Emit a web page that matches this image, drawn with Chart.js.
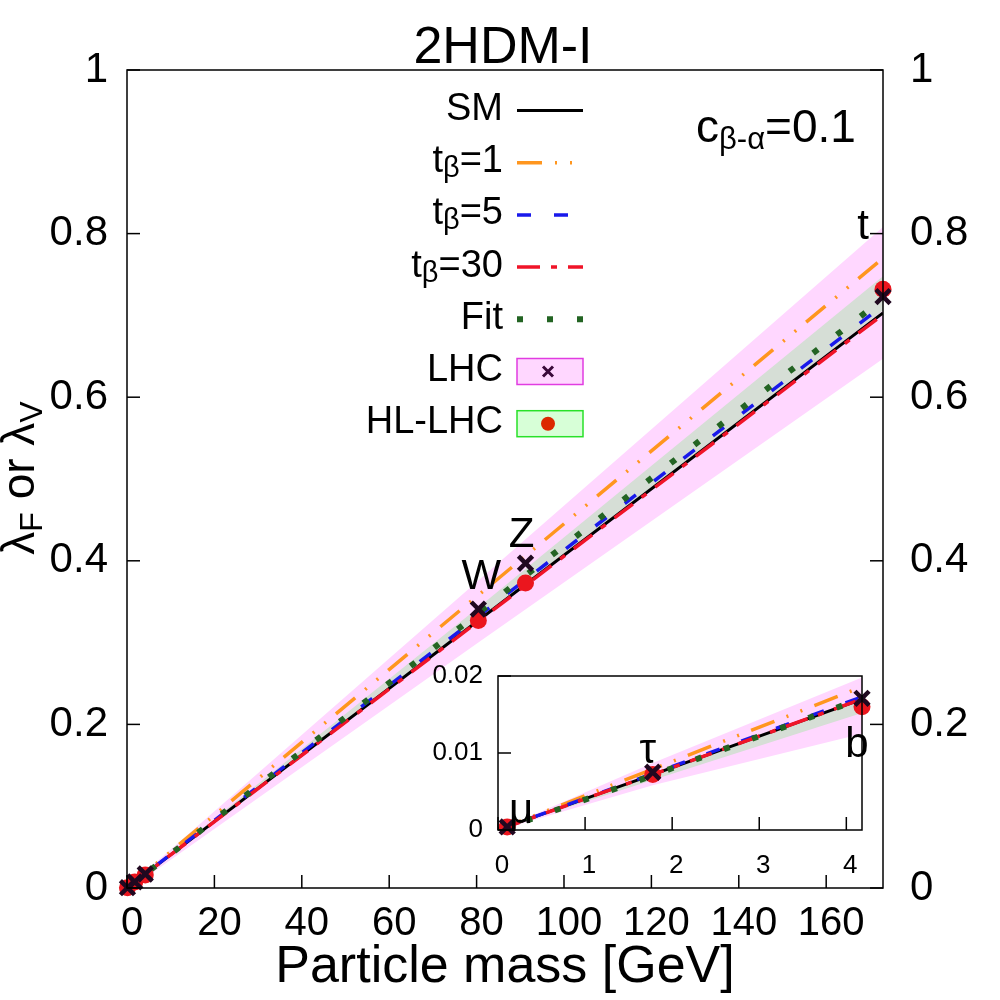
<!DOCTYPE html>
<html>
<head>
<meta charset="utf-8">
<script src="https://cdn.jsdelivr.net/npm/chart.js@4.4.1/dist/chart.umd.min.js"></script>
<style>
body { margin: 0; background: #fff; }
#wrap { position: relative; width: 1000px; height: 1000px; }
#main { position: absolute; left: 0; top: 0; }
#inset { position: absolute; left: 400px; top: 640px; }
</style>
</head>
<body>
<div id="wrap">
<canvas id="main" width="1000" height="1000"></canvas>
<canvas id="inset" width="480" height="260"></canvas>
</div>
<script>
// masses where the model lines are given [GeV]
const masses = [0, 0.1057, 1.777, 4.18, 80.4, 91.19, 173];
const smLine   = [0, 0.00043, 0.0072, 0.0170, 0.327, 0.371, 0.703];
const tb1Line  = [0, 0.00047, 0.0079, 0.0186, 0.358, 0.406, 0.770];
const tb5Line  = [0, 0.00044, 0.0073, 0.0173, 0.332, 0.377, 0.712];
const tb30Line = [0, 0.00043, 0.0072, 0.0170, 0.326, 0.370, 0.701];
const fitLine  = [0, 0.00032, 0.0071, 0.0171, 0.336, 0.382, 0.720];

// fit bands (LHC, HL-LHC)
const bandMass = [0, 0.1057, 1.777, 4.18, 80.4, 173];
const lhcUpper = [0, 0.0005, 0.0087, 0.0198, 0.376, 0.808];
const lhcLower = [0, 0.0003, 0.0058, 0.0125, 0.300, 0.647];
const hlUpper  = [0, 0.00043, 0.0073, 0.0168, 0.343, 0.748];
const hlLower  = [0, 0.00038, 0.0065, 0.0152, 0.326, 0.706];

// measured particles
const pointNames = ['μ', 'τ', 'b', 'W', 'Z', 't'];
const pointMass  = [0.1057, 1.777, 4.18, 80.4, 91.19, 173];
const lhcPoints  = [0.0004, 0.0075, 0.0171, 0.341, 0.397, 0.723];
const hlPoints   = [0.0004, 0.0072, 0.0160, 0.327, 0.373, 0.732];

const FONT = '"Liberation Sans", Arial, Helvetica, sans-serif';
Chart.defaults.font.family = FONT;
Chart.defaults.color = '#000';

const COL = {
    SM: '#000000',
    TB1: 'rgb(255,150,30)',
    TB5: 'rgb(25,25,235)',
    TB30: 'rgb(240,20,40)',
    FIT: 'rgb(35,100,35)',
    LHC: 'rgb(255,215,255)',
    HL: 'rgb(214,222,214)',
    CROSS: '#200820',
    DOT: 'rgb(235,22,30)'
};
const DASH = {
    SM: [],
    TB1: [25, 13, 2, 13, 2, 13],
    TB5: [14, 23],
    TB30: [23, 11, 6, 11],
    FIT: [6, 24]
};
// label offsets from the LHC marker [dx, dy of baseline]
const labelOffsets = [[14, -4], [-5, -9], [-5, 59], [3, -20], [-4, -16], [-20, -58]];

const xy = (xs, ys) => xs.map((x, i) => ({ x: x, y: ys[i] }));
const plain = v => String(+v.toFixed(3));

function lineSet(ys, color, dash, width, order) {
    return {
        data: xy(masses, ys), borderColor: color, borderDash: dash, borderWidth: width,
        borderCapStyle: 'butt', pointRadius: 0, fill: false, tension: 0, order: order
    };
}

function makeDatasets() {
    return [
        { data: xy(bandMass, lhcUpper), borderWidth: 0, pointRadius: 0, backgroundColor: COL.LHC, fill: '+1', order: 20 },
        { data: xy(bandMass, lhcLower), borderWidth: 0, pointRadius: 0, fill: false, order: 21 },
        { data: xy(bandMass, hlUpper), borderWidth: 0, pointRadius: 0, backgroundColor: COL.HL, fill: '+1', order: 18 },
        { data: xy(bandMass, hlLower), borderWidth: 0, pointRadius: 0, fill: false, order: 19 },
        lineSet(smLine, COL.SM, DASH.SM, 3, 9),
        lineSet(tb1Line, COL.TB1, DASH.TB1, 3.5, 8),
        lineSet(tb5Line, COL.TB5, DASH.TB5, 3.5, 7),
        lineSet(tb30Line, COL.TB30, DASH.TB30, 3.5, 6),
        lineSet(fitLine, COL.FIT, DASH.FIT, 6, 5),
        { data: xy(pointMass, hlPoints), showLine: false, pointRadius: 8.5, pointBackgroundColor: COL.DOT,
          pointBorderWidth: 0, clip: 12, order: 2 },
        { data: xy(pointMass, lhcPoints), showLine: false, pointStyle: 'crossRot', pointRadius: 10,
          pointBorderColor: COL.CROSS, pointBorderWidth: 4.5, clip: 12, order: 1 }
    ];
}

// text with subscripts
function richText(ctx, parts, x, y, align, size, subSize, drop) {
    let w = 0;
    parts.forEach(p => {
        ctx.font = (p.sub ? subSize : size) + 'px ' + FONT;
        w += ctx.measureText(p.t).width;
    });
    let cx = align === 'right' ? x - w : align === 'center' ? x - w / 2 : x;
    ctx.textAlign = 'left';
    ctx.textBaseline = 'alphabetic';
    parts.forEach(p => {
        ctx.font = (p.sub ? subSize : size) + 'px ' + FONT;
        ctx.fillText(p.t, cx, y + (p.sub ? drop : 0));
        cx += ctx.measureText(p.t).width;
    });
}

// box and inward ticks like gnuplot
const frame = {
    id: 'frame',
    beforeDatasetsDraw(chart, args, opts) {
        if (!opts.fill) return;
        const a = chart.chartArea;
        chart.ctx.save();
        chart.ctx.fillStyle = opts.fill;
        chart.ctx.fillRect(a.left, a.top, a.right - a.left, a.bottom - a.top);
        chart.ctx.restore();
    },
    afterDraw(chart, args, opts) {
        const ctx = chart.ctx, a = chart.chartArea;
        ctx.save();
        ctx.strokeStyle = '#000';
        ctx.lineWidth = 1.5;
        ctx.setLineDash([]);
        ctx.strokeRect(a.left, a.top, a.right - a.left, a.bottom - a.top);
        opts.axes.forEach(id => {
            const s = chart.scales[id];
            s.ticks.forEach(t => {
                const p = s.getPixelForValue(t.value);
                ctx.beginPath();
                if (s.position === 'bottom') { ctx.moveTo(p, a.bottom); ctx.lineTo(p, a.bottom - opts.len); }
                else if (s.position === 'left') { ctx.moveTo(a.left, p); ctx.lineTo(a.left + opts.len, p); }
                else { ctx.moveTo(a.right, p); ctx.lineTo(a.right - opts.len, p); }
                ctx.stroke();
            });
        });
        ctx.restore();
    }
};

const names = {
    id: 'names',
    afterDatasetsDraw(chart, args, opts) {
        const ctx = chart.ctx, x = chart.scales.x, y = chart.scales.y;
        ctx.save();
        ctx.fillStyle = '#000';
        ctx.font = '42px ' + FONT;
        ctx.textAlign = 'center';
        ctx.textBaseline = 'alphabetic';
        opts.show.forEach(i => {
            const o = labelOffsets[i];
            ctx.fillText(pointNames[i], x.getPixelForValue(pointMass[i]) + o[0], y.getPixelForValue(lhcPoints[i]) + o[1]);
        });
        ctx.restore();
    }
};

const legendRows = [
    { parts: [{ t: 'SM' }], color: COL.SM, dash: DASH.SM, w: 3 },
    { parts: [{ t: 't' }, { t: 'β', sub: 1 }, { t: '=1' }], color: COL.TB1, dash: DASH.TB1, w: 3.5 },
    { parts: [{ t: 't' }, { t: 'β', sub: 1 }, { t: '=5' }], color: COL.TB5, dash: DASH.TB5, w: 3.5 },
    { parts: [{ t: 't' }, { t: 'β', sub: 1 }, { t: '=30' }], color: COL.TB30, dash: DASH.TB30, w: 3.5 },
    { parts: [{ t: 'Fit' }], color: COL.FIT, dash: DASH.FIT, w: 6 },
    { parts: [{ t: 'LHC' }], box: COL.LHC, edge: 'rgb(225,60,225)', mark: 'cross' },
    { parts: [{ t: 'HL-LHC' }], box: 'rgb(215,255,215)', edge: 'rgb(40,225,40)', mark: 'dot' }
];

const texts = {
    id: 'texts',
    afterDraw(chart) {
        const ctx = chart.ctx;
        ctx.save();
        ctx.fillStyle = '#000';
        ctx.textAlign = 'center';
        ctx.textBaseline = 'alphabetic';
        ctx.font = '52px ' + FONT;
        ctx.fillText('2HDM-I', 503, 63);
        ctx.fillText('Particle mass [GeV]', 505, 982);

        ctx.save();
        ctx.translate(34, 478);
        ctx.rotate(-Math.PI / 2);
        richText(ctx, [{ t: 'λ' }, { t: 'F', sub: 1 }, { t: ' or λ' }, { t: 'V', sub: 1 }], 0, 0, 'center', 46, 32, 8);
        ctx.restore();

        richText(ctx, [{ t: 'c' }, { t: 'β-α', sub: 1 }, { t: '=0.1' }], 696, 142, 'left', 46, 31, 7);

        legendRows.forEach((r, i) => {
            const base = 120 + i * 52.2;
            const cy = base - 9.5;
            ctx.fillStyle = '#000';
            richText(ctx, r.parts, 503, base, 'right', 38, 29, 5);
            if (r.box) {
                ctx.fillStyle = r.box;
                ctx.fillRect(517, cy - 13, 66, 26);
                ctx.strokeStyle = r.edge;
                ctx.lineWidth = 1.5;
                ctx.setLineDash([]);
                ctx.strokeRect(517, cy - 13, 66, 26);
                if (r.mark === 'cross') {
                    ctx.strokeStyle = '#3a0a3a';
                    ctx.lineWidth = 3;
                    ctx.beginPath();
                    ctx.moveTo(543, cy - 5); ctx.lineTo(553, cy + 5);
                    ctx.moveTo(553, cy - 5); ctx.lineTo(543, cy + 5);
                    ctx.stroke();
                } else {
                    ctx.fillStyle = 'rgb(220,40,0)';
                    ctx.beginPath();
                    ctx.arc(548, cy, 7, 0, Math.PI * 2);
                    ctx.fill();
                }
            } else {
                ctx.strokeStyle = r.color;
                ctx.lineWidth = r.w;
                ctx.lineCap = 'butt';
                ctx.setLineDash(r.dash);
                ctx.beginPath();
                ctx.moveTo(517, cy);
                ctx.lineTo(583, cy);
                ctx.stroke();
            }
        });
        ctx.restore();
    }
};

const mainChart = new Chart(document.getElementById('main'), {
    type: 'line',
    data: { datasets: makeDatasets() },
    options: {
        responsive: false,
        animation: false,
        devicePixelRatio: 1,
        layout: { padding: { top: 70, left: 0, right: 0, bottom: 0 } },
        scales: {
            x: {
                type: 'linear', min: 0, max: 173,
                grid: { display: false, drawTicks: false }, border: { display: false },
                ticks: { stepSize: 20, includeBounds: false, padding: 12, labelOffset: 5, font: { size: 40 } },
                afterFit: s => { s.height = 112; }
            },
            y: {
                type: 'linear', min: 0, max: 1, position: 'left',
                grid: { display: false, drawTicks: false }, border: { display: false },
                ticks: { stepSize: 0.2, padding: 19, font: { size: 42 }, callback: plain },
                afterFit: s => { s.width = 127; }
            },
            y2: {
                type: 'linear', min: 0, max: 1, position: 'right',
                grid: { display: false, drawTicks: false }, border: { display: false },
                ticks: { stepSize: 0.2, padding: 27, font: { size: 42 }, callback: plain },
                afterFit: s => { s.width = 117; }
            }
        },
        plugins: {
            legend: { display: false },
            tooltip: { enabled: false },
            frame: { axes: ['x', 'y', 'y2'], len: 13 },
            names: { show: [3, 4, 5] }
        }
    },
    plugins: [frame, names, texts]
});

const insetChart = new Chart(document.getElementById('inset'), {
    type: 'line',
    data: { datasets: makeDatasets() },
    options: {
        responsive: false,
        animation: false,
        devicePixelRatio: 1,
        layout: { padding: { top: 36, left: 0, right: 18, bottom: 0 } },
        scales: {
            x: {
                type: 'linear', min: 0, max: 4.18,
                grid: { display: false, drawTicks: false }, border: { display: false },
                ticks: { stepSize: 1, includeBounds: false, padding: 20, labelOffset: 4, font: { size: 26 } },
                afterFit: s => { s.height = 70; }
            },
            y: {
                type: 'linear', min: 0, max: 0.02, position: 'left',
                grid: { display: false, drawTicks: false }, border: { display: false },
                ticks: { stepSize: 0.01, padding: 15, font: { size: 26 }, callback: plain },
                afterFit: s => { s.width = 98; }
            }
        },
        plugins: {
            legend: { display: false },
            tooltip: { enabled: false },
            frame: { axes: ['x', 'y'], len: 13, fill: '#ffffff' },
            names: { show: [0, 1, 2] }
        }
    },
    plugins: [frame, names]
});
</script>
</body>
</html>
